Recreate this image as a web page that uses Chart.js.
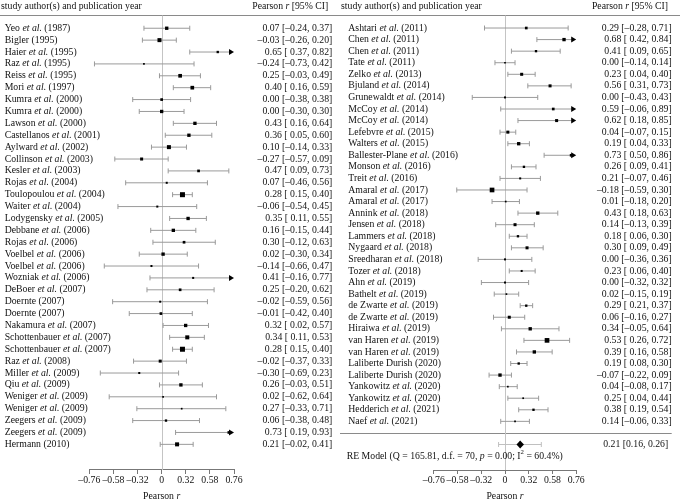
<!DOCTYPE html>
<html><head><meta charset="utf-8">
<script src="https://cdn.jsdelivr.net/npm/chart.js@4.4.1/dist/chart.umd.min.js"></script>
<style>
html,body{margin:0;padding:0;background:#fff;}
#wrap{position:relative;width:680px;height:503px;background:#fff;}
canvas{position:absolute;top:0;}
</style>
</head><body>
<div id="wrap">
<canvas id="cL" width="340" height="503" style="left:0"></canvas>
<canvas id="cR" width="340" height="503" style="left:340px"></canvas>
</div>
<script>
// ---------- DATA ----------
const studiesL = ['Yeo et al. (1987)','Bigler (1995)','Haier et al. (1995)','Raz et al. (1995)','Reiss et al. (1995)','Mori et al. (1997)','Kumra et al. (2000)','Kumra et al. (2000)','Lawson et al. (2000)','Castellanos et al. (2001)','Aylward et al. (2002)','Collinson et al. (2003)','Kesler et al. (2003)','Rojas et al. (2004)','Toulopoulou et al. (2004)','Waiter et al. (2004)','Lodygensky et al. (2005)','Debbane et al. (2006)','Rojas et al. (2006)','Voelbel et al. (2006)','Voelbel et al. (2006)','Wozniak et al. (2006)','DeBoer et al. (2007)','Doernte (2007)','Doernte (2007)','Nakamura et al. (2007)','Schottenbauer et al. (2007)','Schottenbauer et al. (2007)','Raz et al. (2008)','Miller et al. (2009)','Qiu et al. (2009)','Weniger et al. (2009)','Weniger et al. (2009)','Zeegers et al. (2009)','Zeegers et al. (2009)','Hermann (2010)'];
const rL  = [0.07,-0.03,0.65,-0.24,0.25,0.40,0.00,0.00,0.43,0.36,0.10,-0.27,0.47,0.07,0.28,-0.06,0.35,0.16,0.30,0.02,-0.14,0.41,0.25,-0.02,-0.01,0.32,0.34,0.28,-0.02,-0.30,0.26,0.02,0.27,0.06,0.73,0.21];
const loL = [-0.24,-0.26,0.37,-0.73,-0.03,0.16,-0.38,-0.30,0.16,0.05,-0.14,-0.57,0.09,-0.46,0.15,-0.54,0.11,-0.15,-0.12,-0.30,-0.66,-0.16,-0.20,-0.59,-0.42,0.02,0.11,0.15,-0.37,-0.69,-0.03,-0.62,-0.33,-0.38,0.19,-0.02];
const hiL = [0.37,0.20,0.82,0.42,0.49,0.59,0.38,0.30,0.64,0.60,0.33,0.09,0.73,0.56,0.40,0.45,0.55,0.44,0.63,0.34,0.47,0.77,0.62,0.56,0.40,0.57,0.53,0.40,0.33,0.23,0.51,0.64,0.71,0.48,0.93,0.41];
const weightL = [1.6,2.0,1.0,0.6,1.8,1.8,1.2,1.6,1.6,1.6,2.0,1.4,1.2,0.8,2.6,0.8,1.6,1.6,1.2,1.6,0.8,0.8,1.2,0.8,1.2,1.6,2.0,2.6,1.4,0.8,1.6,0.6,0.6,1.0,1.2,2.0];

const studiesR = ['Ashtari et al. (2011)','Chen et al. (2011)','Chen et al. (2011)','Tate et al. (2011)','Zelko et al. (2013)','Bjuland et al. (2014)','Grunewaldt et al. (2014)','McCoy et al. (2014)','McCoy et al. (2014)','Lefebvre et al. (2015)','Walters et al. (2015)','Ballester-Plane et al. (2016)','Monson et al. (2016)','Treit et al. (2016)','Amaral et al. (2017)','Amaral et al. (2017)','Annink et al. (2018)','Jensen et al. (2018)','Lammers et al. (2018)','Nygaard et al. (2018)','Sreedharan et al. (2018)','Tozer et al. (2018)','Ahn et al. (2019)','Bathelt et al. (2019)','de Zwarte et al. (2019)','de Zwarte et al. (2019)','Hiraiwa et al. (2019)','van Haren et al. (2019)','van Haren et al. (2019)','Laliberte Durish (2020)','Laliberte Durish (2020)','Yankowitz et al. (2020)','Yankowitz et al. (2020)','Hedderich et al. (2021)','Naef et al. (2021)'];
const rR  = [0.29,0.68,0.41,0.00,0.23,0.56,0.00,0.59,0.62,0.04,0.19,0.73,0.26,0.21,-0.18,0.01,0.43,0.14,0.18,0.30,0.00,0.23,0.00,0.02,0.29,0.06,0.34,0.53,0.39,0.19,-0.07,0.04,0.25,0.38,0.14];
const loR = [-0.28,0.42,0.09,-0.14,0.04,0.31,-0.43,-0.06,0.18,-0.07,0.04,0.50,0.09,-0.07,-0.59,-0.18,0.18,-0.13,0.06,0.09,-0.36,0.06,-0.32,-0.15,0.21,-0.16,-0.05,0.26,0.16,0.08,-0.22,-0.08,0.04,0.19,-0.06];
const hiR = [0.71,0.84,0.65,0.14,0.40,0.73,0.43,0.89,0.85,0.15,0.33,0.86,0.41,0.46,0.30,0.20,0.63,0.39,0.30,0.49,0.36,0.40,0.32,0.19,0.37,0.27,0.64,0.72,0.58,0.30,0.09,0.17,0.44,0.54,0.33];
const weightR = [1.2,1.6,1.0,0.6,1.4,1.4,0.8,1.2,1.4,1.4,1.6,1.2,1.0,0.8,2.4,0.6,1.6,1.4,1.0,1.4,0.8,0.8,0.8,0.6,1.0,1.4,1.6,2.4,1.6,1.0,1.6,0.6,0.6,1.0,0.6];

// random-effects summary (Pearson r) and prediction interval
const reEst = 0.21, reLo = 0.16, reHi = 0.26;
const rePiLo = -0.09, rePiHi = 0.47;
const reStats = {Q:'165.81', df:'70', p:'0.00', I2:'60.4%'};

// axis: Fisher-z positions and their Pearson-r labels
const tickZ = [-1, -2/3, -1/3, 0, 1/3, 2/3, 1];
const tickLabels = ['\u20130.76','\u20130.58','\u20130.32','0','0.32','0.58','0.76'];

// ---------- RENDERING ----------
const FAMILY = "'Liberation Serif','Times New Roman',serif";
const FS = 9.75;
const TXT = '#111';
const toZ = r => Math.atanh(r);
const sideOf = w => 1.7 + (w - 0.6) * 1.65;
const fmt = v => (v < 0 ? '\u2013' : '') + Math.abs(v).toFixed(2);
const ciText = (e, l, h) => fmt(e) + ' [' + (l >= 0 ? ' ' : '') + fmt(l) + ', ' + fmt(h) + ']';

function rich(ctx, segs, x, y, align) {
  const f = s => (s.it ? 'italic ' : '') + (s.sup ? FS * 0.7 : FS) + 'px ' + FAMILY;
  let w = 0;
  segs.forEach(s => { ctx.font = f(s); s.w = ctx.measureText(s.t).width; w += s.w; });
  let cx = align === 'right' ? x - w : align === 'center' ? x - w / 2 : x;
  ctx.textAlign = 'left'; ctx.textBaseline = 'middle'; ctx.fillStyle = TXT;
  segs.forEach(s => { ctx.font = f(s); ctx.fillText(s.t, cx, s.sup ? y - FS * 0.38 : y); cx += s.w; });
}
function nameSegs(n) {
  const i = n.indexOf('et al.');
  if (i < 0) return [{t: n}];
  return [{t: n.slice(0, i)}, {t: 'et al.', it: true}, {t: n.slice(i + 6)}];
}
function seg(ctx, x1, y1, x2, y2) { ctx.beginPath(); ctx.moveTo(x1, y1); ctx.lineTo(x2, y2); ctx.stroke(); }

function forestPlugin(P) {
  return {
    id: 'forest',
    beforeDatasetsDraw(chart) {
      const {ctx, scales: {x, y}, chartArea: a} = chart;
      ctx.save();
      ctx.lineWidth = 1;
      ctx.strokeStyle = '#8a8a8a';
      seg(ctx, 0, 15.5, chart.width, 15.5);
      if (P.sepRow) {
        const ys = Math.round(y.getPixelForValue(P.sepRow)) + 0.5;
        seg(ctx, 0, ys, P.valX, ys);
      }
      const x0 = Math.round(x.getPixelForValue(0)) + 0.5;
      ctx.strokeStyle = '#c4c4c4';
      seg(ctx, x0, 15.5, x0, a.bottom);
      ctx.strokeStyle = '#9a9a9a';
      P.r.forEach((r, i) => {
        const yy = y.getPixelForValue(i + 1);
        const zl = toZ(P.lo[i]), zh = toZ(P.hi[i]);
        const xl = x.getPixelForValue(Math.max(zl, x.min));
        const xh = x.getPixelForValue(Math.min(zh, x.max)) - (zh > x.max ? 4 : 0);
        seg(ctx, xl, yy, xh, yy);
        if (zl >= x.min) seg(ctx, xl, yy - 2.5, xl, yy + 2.5);
        if (zh <= x.max) seg(ctx, xh, yy - 2.5, xh, yy + 2.5);
      });
      if (P.summary) {
        const S = P.summary, yy = y.getPixelForValue(S.row);
        const pl = x.getPixelForValue(toZ(S.piLo)), ph = x.getPixelForValue(toZ(S.piHi));
        ctx.strokeStyle = '#c0c0c0';
        seg(ctx, pl, yy, ph, yy);
        seg(ctx, pl, yy - 2.5, pl, yy + 2.5);
        seg(ctx, ph, yy - 2.5, ph, yy + 2.5);
      }
      ctx.restore();
    },
    afterDatasetsDraw(chart) {
      const {ctx, scales: {x, y}, chartArea: a} = chart;
      ctx.save();
      // arrows for clipped intervals
      ctx.fillStyle = '#000';
      P.r.forEach((r, i) => {
        if (toZ(P.hi[i]) > x.max) {
          const yy = y.getPixelForValue(i + 1), xt = x.getPixelForValue(x.max);
          ctx.beginPath(); ctx.moveTo(xt, yy); ctx.lineTo(xt - 5, yy - 3); ctx.lineTo(xt - 5, yy + 3); ctx.closePath(); ctx.fill();
        }
      });
      // headers
      rich(ctx, [{t: 'study author(s) and publication year'}], P.headX, 6, 'left');
      rich(ctx, [{t: 'Pearson '}, {t: 'r', it: true}, {t: ' [95% CI]'}], P.headR, 6, 'right');
      // rows
      P.names.forEach((n, i) => {
        const yy = y.getPixelForValue(i + 1);
        rich(ctx, nameSegs(n), P.nameX, yy, 'left');
        rich(ctx, [{t: ciText(P.r[i], P.lo[i], P.hi[i])}], P.valX, yy, 'right');
      });
      // summary
      if (P.summary) {
        const S = P.summary, yy = y.getPixelForValue(S.row);
        const xl = x.getPixelForValue(toZ(S.lo)), xh = x.getPixelForValue(toZ(S.hi)), xe = x.getPixelForValue(toZ(S.est));
        ctx.fillStyle = '#000';
        ctx.beginPath(); ctx.moveTo(xl, yy); ctx.lineTo(xe, yy - 4); ctx.lineTo(xh, yy); ctx.lineTo(xe, yy + 4); ctx.closePath(); ctx.fill();
        rich(ctx, [{t: fmt(S.est) + ' [' + fmt(S.lo) + ', ' + fmt(S.hi) + ']'}], P.valX - 3.5, yy, 'right');
        const st = S.stats;
        rich(ctx, [{t: 'RE Model (Q = ' + st.Q + ', d.f. = ' + st.df + ', '}, {t: 'p', it: true}, {t: ' = ' + st.p + '; I'}, {t: '2', sup: true}, {t: ' = ' + st.I2 + ')'}],
             P.nameX - 1.6, y.getPixelForValue(S.textRow), 'left');
      }
      // axis title
      rich(ctx, [{t: 'Pearson '}, {t: 'r', it: true}], (a.left + a.right) / 2, 496, 'center');
      ctx.restore();
    }
  };
}

function makeForest(id, P) {
  const pts = P.r.map((r, i) => ({x: toZ(r), y: i + 1}));
  new Chart(document.getElementById(id), {
    type: 'scatter',
    data: {datasets: [{
      data: pts,
      pointStyle: 'rect',
      pointRadius: P.w.map(w => sideOf(w) / Math.SQRT2),
      pointHoverRadius: P.w.map(w => sideOf(w) / Math.SQRT2),
      backgroundColor: '#000', borderColor: '#000', borderWidth: 0,
      clip: false
    }]},
    options: {
      responsive: false, animation: false, devicePixelRatio: 1, events: [],
      layout: {padding: {left: P.padL, right: P.padR, top: 0, bottom: 15.25}},
      plugins: {legend: {display: false}, tooltip: {enabled: false}},
      scales: {
        x: {
          type: 'linear', min: -1, max: 1,
          afterBuildTicks: s => { s.ticks = tickZ.map(v => ({value: v})); },
          ticks: {autoSkip: false, maxRotation: 0, minRotation: 0, padding: 2, color: TXT,
                  font: {family: FAMILY, size: FS, lineHeight: 1},
                  callback: (v, i) => tickLabels[i]},
          grid: {drawOnChartArea: false, drawTicks: true, tickLength: 4, color: '#777', tickColor: '#777'},
          border: {display: true, color: '#777', width: 1}
        },
        y: {type: 'linear', reverse: true, min: P.yMin, max: P.yMax, display: false}
      }
    },
    plugins: [forestPlugin(P)]
  });
}

makeForest('cL', {names: studiesL, r: rL, lo: loL, hi: hiL, w: weightL,
  padL: 89.3, padR: 106, yMin: -1.078, yMax: 38.157,
  nameX: 4.7, valX: 332.3, headX: 1, headR: 328.3});

makeForest('cR', {names: studiesR, r: rR, lo: loR, hi: hiR, w: weightR,
  padL: 93.8, padR: 103.8, yMin: -1.137, yMax: 39.205,
  nameX: 8.3, valX: 331.7, headX: 1, headR: 328, sepRow: 36,
  summary: {est: reEst, lo: reLo, hi: reHi, piLo: rePiLo, piHi: rePiHi, row: 37, textRow: 38, stats: reStats}});
</script>
</body></html>
